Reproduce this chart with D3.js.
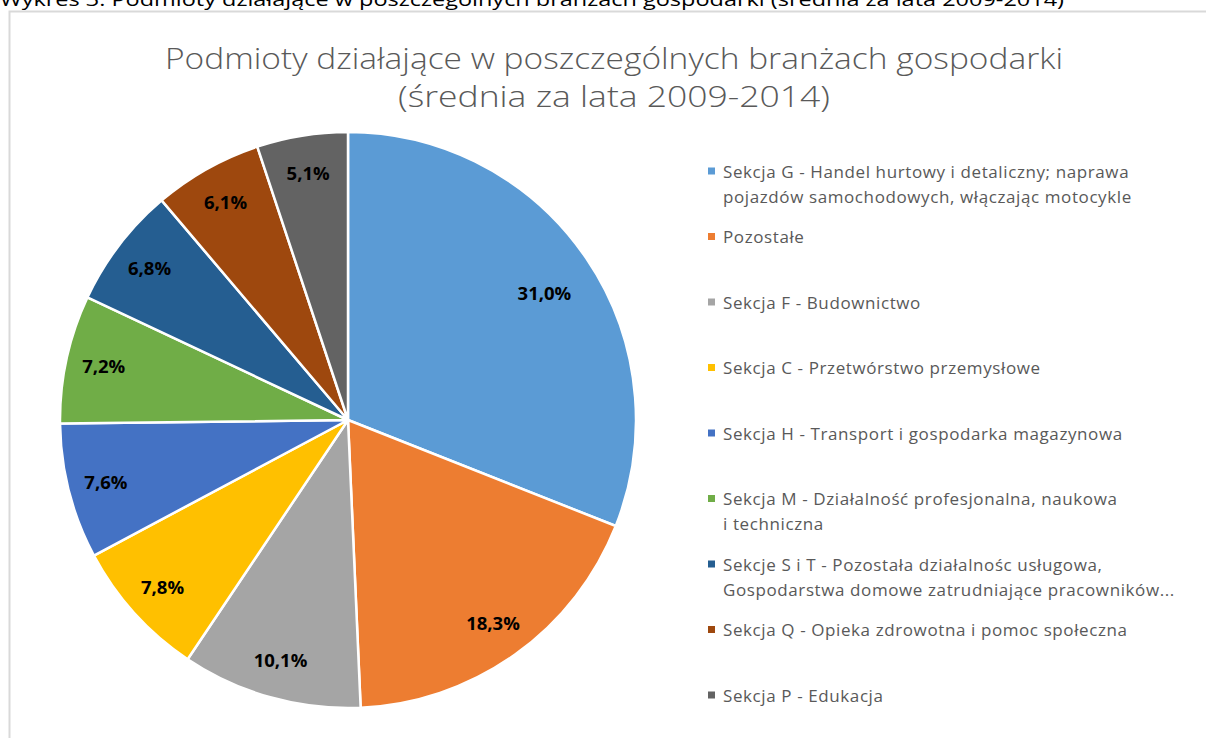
<!DOCTYPE html>
<html>
<head>
<meta charset="utf-8">
<script src="https://cdn.jsdelivr.net/npm/d3@7"></script>
<style>
  body { margin: 0; background: #fff; }
  svg { display: block; }
</style>
</head>
<body>
<div id="chart-area"></div>
<script>
const WIDTH = 1206
const HEIGHT = 738

// data
const sections = [
  ["Sekcja G - Handel hurtowy i detaliczny; naprawa", "pojazdów samochodowych, włączając motocykle"],
  ["Pozostałe"],
  ["Sekcja F - Budownictwo"],
  ["Sekcja C - Przetwórstwo przemysłowe"],
  ["Sekcja H - Transport i gospodarka magazynowa"],
  ["Sekcja M - Działalność profesjonalna, naukowa", "i techniczna"],
  ["Sekcje S i T - Pozostała działalnośc usługowa,", "Gospodarstwa domowe zatrudniające pracowników..."],
  ["Sekcja Q - Opieka zdrowotna i pomoc społeczna"],
  ["Sekcja P - Edukacja"]
]
const shares = [31.0, 18.3, 10.1, 7.8, 7.6, 7.2, 6.8, 6.1, 5.1]
const colors = ["#5b9bd5", "#ed7d31", "#a5a5a5", "#ffc000", "#4472c4", "#70ad47", "#255e91", "#9e480e", "#636363"]
const titleLines = ["Podmioty działające w poszczególnych  branżach gospodarki", "(średnia za lata 2009-2014)"]
const caption = "Wykres 3. Podmioty działające w poszczególnych branżach gospodarki (średnia za lata 2009-2014)"

const data = shares.map((v, i) => ({ name: sections[i], value: v, color: colors[i] }))

const svg = d3.select("#chart-area").append("svg")
  .attr("width", WIDTH)
  .attr("height", HEIGHT)

// caption above the chart, cut by the top edge
svg.append("text")
  .attr("x", 0)
  .attr("y", 6)
  .attr("font-family", "Open Sans, sans-serif")
  .attr("font-size", 19)
  .attr("fill", "#000")
  .attr("textLength", 1064)
  .attr("lengthAdjust", "spacingAndGlyphs")
  .text(caption)

// chart frame
svg.append("rect")
  .attr("x", 9.5)
  .attr("y", 11.5)
  .attr("width", WIDTH + 20)
  .attr("height", HEIGHT + 20)
  .attr("fill", "none")
  .attr("stroke", "#d9d9d9")
  .attr("stroke-width", 2)

// title
svg.append("g")
  .selectAll("text")
  .data(titleLines)
  .join("text")
  .attr("x", 614)
  .attr("y", (d, i) => 69 + i * 38)
  .attr("text-anchor", "middle")
  .attr("font-family", "Open Sans, sans-serif")
  .attr("font-weight", 300)
  .attr("font-size", 30)
  .attr("fill", "#595959")
  .attr("textLength", (d, i) => i === 0 ? 898 : 432)
  .attr("lengthAdjust", "spacingAndGlyphs")
  .text(d => d)

// pie
const R = 288
const pieG = svg.append("g")
  .attr("transform", `translate(348, 420)`)

const pie = d3.pie().value(d => d.value).sort(null)
const arc = d3.arc().innerRadius(0).outerRadius(R)
const labelArc = d3.arc().innerRadius(250).outerRadius(250)
const fmt = d => d3.format(".1f")(d).replace(".", ",") + "%"

const arcs = pie(data)

pieG.selectAll("path")
  .data(arcs)
  .join("path")
  .attr("d", arc)
  .attr("fill", d => d.data.color)
  .attr("stroke", "#fff")
  .attr("stroke-width", 2.5)
  .attr("stroke-linejoin", "round")

pieG.selectAll("text")
  .data(arcs)
  .join("text")
  .attr("transform", (d, i) => {
    const [cx, cy] = labelArc.centroid(d)
    // the large slice keeps its label a bit further in
    return i === 0 ? `translate(${cx * 0.95}, ${cy * 0.9})` : `translate(${cx}, ${cy})`
  })
  .attr("text-anchor", "middle")
  .attr("dy", "0.35em")
  .attr("font-family", "Open Sans, sans-serif")
  .attr("font-weight", 700)
  .attr("font-size", 18.5)
  .attr("fill", "#000")
  .text(d => fmt(d.data.value))

// legend
const legend = svg.append("g")
  .selectAll("g")
  .data(data)
  .join("g")
  .attr("transform", (d, i) => `translate(708, ${171 + i * 65.5})`)

legend.append("rect")
  .attr("x", 0)
  .attr("y", -3.5)
  .attr("width", 7)
  .attr("height", 7)
  .attr("fill", d => d.color)

legend.append("text")
  .attr("font-family", "Open Sans, sans-serif")
  .attr("font-size", 17)
  .attr("letter-spacing", 0.6)
  .attr("fill", "#595959")
  .selectAll("tspan")
  .data(d => d.name)
  .join("tspan")
  .attr("x", 15)
  .attr("y", (d, i) => 6.5 + i * 25)
  .text(d => d)
</script>
</body>
</html>
